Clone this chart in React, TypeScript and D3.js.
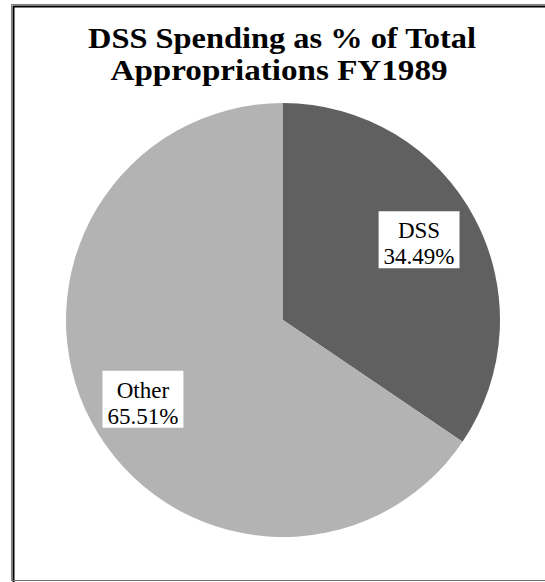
import React, { useEffect, useRef } from "react";
import * as d3 from "d3";

const categories = ["DSS", "Other"];
const values = [34.49, 65.51];
const labels = ["34.49%", "65.51%"];
const colors = ["#606060", "#b3b3b3"];
const titleLines = ["DSS Spending as % of Total", "Appropriations FY1989"];

const W = 545;
const H = 582;

export default function App() {
  const ref = useRef<SVGSVGElement | null>(null);

  useEffect(() => {
    const svg = d3.select(ref.current);
    svg.selectAll("*").remove();

    svg.append("rect").attr("width", W).attr("height", H).attr("fill", "#ffffff");

    // frame
    svg.append("rect")
      .attr("x", 11.5).attr("y", 4.5).attr("width", 600).attr("height", 576)
      .attr("fill", "none").attr("stroke", "#808080").attr("stroke-width", 1);
    svg.append("rect")
      .attr("x", 13.5).attr("y", 6.5).attr("width", 600).attr("height", 600)
      .attr("fill", "none").attr("stroke", "#000000").attr("stroke-width", 2);
    svg.append("line")
      .attr("x1", 12).attr("x2", W).attr("y1", 580.5).attr("y2", 580.5)
      .attr("stroke", "#707070").attr("stroke-width", 1);

    // title
    const titleWidths = [388, 337];
    const titleX = [282, 279];
    titleLines.forEach((t, i) => {
      svg.append("text")
        .attr("text-anchor", "middle")
        .attr("font-family", "'Liberation Serif', 'Times New Roman', serif")
        .attr("font-weight", "bold")
        .attr("font-size", 28.5)
        .attr("fill", "#000")
        .attr("x", titleX[i])
        .attr("y", 48 + i * 32)
        .attr("textLength", titleWidths[i])
        .attr("lengthAdjust", "spacingAndGlyphs")
        .text(t);
    });

    const cx = 283, cy = 320, r = 217;
    const data = categories.map((c, i) => ({ c, v: values[i], l: labels[i], col: colors[i] }));
    const pie = d3.pie<any>().value((d) => d.v).sort(null).startAngle(0).endAngle(2 * Math.PI);
    const arcs = pie(data);
    const arc = d3.arc<any>().innerRadius(0).outerRadius(r);
    const labelArc = d3.arc<any>().innerRadius(r * 0.72).outerRadius(r * 0.72);

    const g = svg.append("g").attr("transform", `translate(${cx},${cy})`);
    g.selectAll("path").data(arcs).enter().append("path")
      .attr("d", arc as any)
      .attr("fill", (d: any) => d.data.col);

    arcs.forEach((a: any) => {
      const [lx, ly] = labelArc.centroid(a);
      const lg = g.append("g").attr("transform", `translate(${lx - 2},${ly * 1.09})`);
      const box = lg.append("rect").attr("fill", "#ffffff");
      const txt = lg.append("text")
        .attr("text-anchor", "middle")
        .attr("font-family", "'Liberation Serif', 'Times New Roman', serif")
        .attr("font-size", 23)
        .attr("fill", "#000");
      txt.append("tspan").attr("x", 0).attr("y", -2).text(a.data.c);
      txt.append("tspan").attr("x", 0).attr("y", 24).text(a.data.l);
      const bb = (txt.node() as SVGTextElement).getBBox();
      box.attr("x", bb.x - 5).attr("y", -29).attr("width", bb.width + 10).attr("height", 57);
    });
  }, []);

  return (
    <svg
      ref={ref}
      width={W}
      height={H}
      style={{ position: "absolute", left: 0, top: 0, display: "block" }}
    />
  );
}
